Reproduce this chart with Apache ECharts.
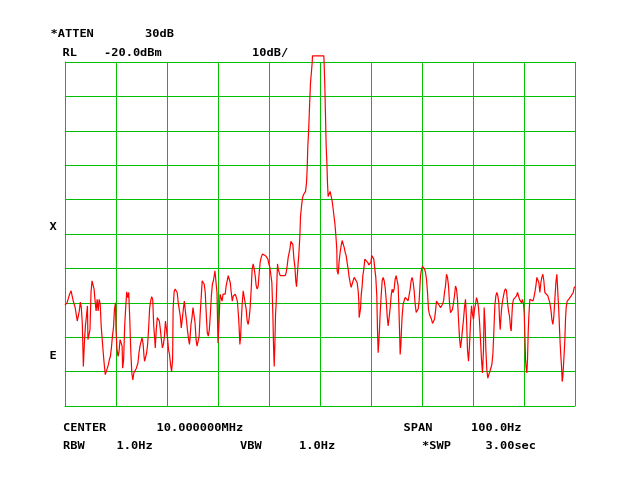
<!DOCTYPE html>
<html>
<head>
<meta charset="utf-8">
<script src="https://cdn.jsdelivr.net/npm/echarts@6/dist/echarts.min.js"></script>
<style>
  html, body { margin: 0; padding: 0; background: #fff; }
  #main { width: 640px; height: 480px; }
</style>
</head>
<body>
<div id="main"></div>
<script>
// sweep: [offset from center (Hz), level (dBm)]
var traceLowSide = [
  [-50.0,-90.7],[-49.6,-90.0],[-49.4,-89.0],[-49.1,-87.5],[-48.8,-86.5],[-48.6,-88.0],[-48.3,-90.0],[-48.0,-91.4],[-47.8,-93.4],[-47.6,-95.3],
  [-47.4,-95.8],[-47.2,-92.4],[-47.0,-89.8],[-46.8,-91.4],[-46.6,-96.3],[-46.4,-108.5],[-46.3,-108.5],[-46.2,-101.7],[-46.0,-96.8],[-45.8,-93.9],
  [-45.6,-90.9],[-45.5,-100.7],[-45.3,-101.2],[-45.1,-97.8],[-44.9,-87.0],[-44.7,-83.6],[-44.5,-83.1],[-44.3,-86.0],[-44.1,-89.5],[-43.9,-92.4],
  [-43.7,-89.0],[-43.5,-92.4],[-43.3,-89.0],[-43.1,-90.4],[-42.9,-96.8],[-42.7,-100.7],[-42.5,-104.6],[-42.3,-108.0],[-42.1,-110.9],[-41.9,-110.4],
  [-41.7,-109.0],[-41.5,-108.0],[-41.3,-106.5],[-41.1,-105.6],[-40.9,-103.1],[-40.7,-99.7],[-40.5,-97.3],[-40.3,-91.9],[-40.1,-90.0],[-40.0,-97.8],
  [-39.8,-103.6],[-39.6,-105.6],[-39.4,-104.1],[-39.2,-100.7],[-39.0,-101.2],[-38.8,-102.6],[-38.7,-109.0],[-38.5,-106.5],[-38.3,-96.8],[-38.1,-91.4],
  [-37.9,-86.8],[-37.7,-88.5],[-37.5,-87.0],[-37.3,-94.8],[-37.1,-104.1],[-36.9,-110.4],[-36.7,-112.4],[-36.5,-110.4],[-36.2,-110.0],[-36.0,-109.0],
  [-35.7,-107.5],[-35.5,-104.6],[-35.3,-102.6],[-35.1,-102.1],[-34.9,-100.2],[-34.7,-101.7],[-34.5,-105.6],[-34.4,-107.0],[-34.2,-106.5],[-34.0,-104.6],
  [-33.8,-102.1],[-33.6,-97.3],[-33.4,-91.4],[-33.2,-89.5],[-33.0,-88.2],[-32.8,-89.0],[-32.6,-96.8],[-32.4,-100.7],[-32.3,-103.1],[-32.1,-97.8],
  [-31.9,-94.3],[-31.7,-93.9],[-31.5,-95.3],[-31.3,-97.8],[-31.1,-100.7],[-30.9,-103.1],[-30.7,-102.1],[-30.5,-99.7],[-30.3,-95.3],[-30.1,-97.8],
  [-29.9,-100.2],[-29.7,-103.6],[-29.5,-105.1],[-29.3,-108.0],[-29.1,-110.0],[-28.9,-106.5],[-28.8,-91.9],[-28.6,-86.8],[-28.4,-86.0],[-28.2,-86.0],
  [-28.0,-87.0],[-27.8,-90.0],[-27.6,-91.9],[-27.4,-93.9],[-27.2,-97.3],[-27.0,-96.8],[-26.8,-91.9],[-26.6,-89.5],[-26.4,-92.4],[-26.2,-94.8],
  [-26.0,-97.8],[-25.8,-100.2],[-25.6,-102.1],[-25.5,-100.7],[-25.3,-96.3],[-25.1,-94.3],[-24.9,-91.4],[-24.7,-91.9],[-24.5,-95.8],[-24.3,-100.7],
  [-24.1,-102.6],[-23.9,-102.1],[-23.7,-99.7],[-23.5,-93.4],[-23.3,-88.5],[-23.1,-83.6],[-22.9,-83.1],[-22.7,-84.6],[-22.5,-87.0],[-22.3,-93.4],
  [-22.1,-98.7],[-21.9,-99.7],[-21.7,-97.8],[-21.5,-93.4],[-21.3,-88.0],[-21.1,-84.6],[-20.9,-83.6],[-20.7,-81.7],[-20.6,-80.7],[-20.4,-81.2],
  [-20.2,-87.0],[-20.0,-101.7],[-19.8,-95.8],[-19.6,-87.5],[-19.4,-88.0],[-19.2,-89.5],[-19.0,-87.5],[-18.8,-87.0],[-18.6,-87.5],[-18.4,-85.1],
  [-18.2,-83.6],[-18.0,-82.1],[-17.8,-81.7],[-17.6,-84.1],[-17.4,-87.0],[-17.2,-89.5],[-17.0,-88.0],[-16.8,-87.5],[-16.6,-87.5],[-16.4,-88.0],
  [-16.2,-89.5],[-15.98,-93.9],[-15.85,-97.3],[-15.71,-102.1],[-15.58,-100.2],[-15.45,-95.8],[-15.26,-90.4],[-15.06,-86.5],[-14.86,-86.5],[-14.67,-87.0],
  [-14.47,-91.9],[-14.28,-95.3],[-14.08,-96.3],[-13.88,-94.3],[-13.69,-91.4],[-13.49,-86.0],[-13.30,-80.2],[-13.10,-78.7],[-12.90,-80.2],[-12.71,-82.1],
  [-12.51,-85.1],[-12.32,-86.0],[-12.12,-85.1],[-11.92,-81.2],[-11.73,-78.2],[-11.53,-76.8],[-11.27,-75.8],[-11.07,-75.5],[-10.88,-75.8],[-10.68,-76.3],
  [-10.49,-76.8],[-10.22,-77.3],[-10.03,-78.7],[-9.83,-79.7],[-9.64,-80.2],[-9.44,-84.1],[-9.24,-93.4],[-9.11,-102.6],[-8.98,-108.5],[-8.85,-102.1],
  [-8.72,-93.4],[-8.59,-90.0],[-8.46,-84.1],[-8.33,-78.7],[-8.20,-80.2],[-8.00,-81.2],[-7.81,-82.1],[-7.61,-82.0],[-7.41,-82.1],[-7.22,-82.0],
  [-7.02,-82.4],[-6.82,-82.1],[-6.63,-81.2],[-6.43,-79.2],[-6.24,-76.8],[-6.11,-76.5],[-5.91,-74.5],[-5.71,-72.1],[-5.52,-71.6],[-5.32,-73.1],
  [-5.13,-77.0],[-4.93,-79.4],[-4.74,-83.8],[-4.60,-85.3],[-4.47,-84.8],[-4.28,-78.4],[-4.15,-76.0],[-3.95,-70.6]
];

var traceCarrier = [
  [-3.82,-64.9],[-3.63,-62.0],[-3.43,-59.5],[-3.24,-58.6],[-2.84,-57.6],[-2.65,-55.2],[-2.52,-51.3],[-2.39,-44.5],[-2.25,-40.6],[-2.12,-35.8],
  [-1.99,-30.5],[-1.86,-26.1],[-1.67,-22.7],[-1.54,-20.3],[-1.47,-18.2],[0.75,-18.2],[0.82,-20.8],[0.95,-27.1],[1.08,-35.8],[1.21,-44.5],
  [1.34,-48.9],[1.47,-55.2],[1.60,-59.1],[1.73,-58.6],[1.86,-59.5],[1.99,-57.6],[2.12,-58.1],[2.25,-59.5],[2.39,-60.5],[2.52,-62.0],
  [2.71,-64.4],[2.91,-66.8],[3.10,-70.2],[3.30,-74.6]
];

var traceHighSide = [
  [3.36,-80.7],[3.56,-81.7],[3.76,-77.8],[3.95,-75.3],[4.15,-73.4],[4.34,-71.9],[4.54,-72.4],[4.74,-73.9],[4.93,-75.3],[5.13,-76.3],
  [5.32,-78.3],[5.52,-80.2],[5.72,-82.6],[5.91,-84.1],[6.11,-85.5],[6.30,-85.0],[6.50,-83.6],[6.70,-82.6],[6.89,-82.1],[7.09,-82.6],
  [7.28,-84.1],[7.48,-86.5],[7.61,-89.4],[7.68,-94.3],[7.81,-94.3],[7.94,-91.8],[8.07,-88.0],[8.27,-85.0],[8.40,-82.1],[8.59,-80.2],
  [8.79,-77.3],[8.98,-77.3],[9.18,-77.8],[9.38,-78.3],[9.57,-79.0],[9.77,-79.2],[9.96,-78.3],[10.16,-76.3],[10.36,-75.8],[10.55,-77.3],
  [10.75,-80.2],[10.94,-82.6],[11.14,-88.0],[11.27,-97.7],[11.40,-104.5],[11.53,-101.6],[11.66,-97.7],[11.79,-93.3],[11.99,-88.0],[12.19,-83.6],
  [12.38,-82.6],[12.58,-83.6],[12.77,-85.5],[12.97,-88.9],[13.17,-93.8],[13.36,-96.7],[13.56,-94.3],[13.76,-91.4],[13.95,-88.0],[14.15,-86.0],
  [14.34,-87.0],[14.54,-86.0],[14.74,-83.1],[14.93,-82.1],[15.13,-81.7],[15.32,-85.0],[15.45,-90.4],[15.59,-97.7],[15.72,-105.0],[15.85,-102.5],
  [15.98,-97.7],[16.11,-93.8],[16.30,-90.4],[16.50,-89.4],[16.70,-88.4],[16.89,-88.4],[17.09,-88.9],[17.29,-89.4],[17.48,-88.9],[17.68,-86.0],
  [17.87,-83.6],[18.07,-82.6],[18.27,-84.1],[18.46,-86.5],[18.66,-90.4],[18.86,-92.8],[19.05,-93.3],[19.25,-91.8],[19.44,-89.4],[19.51,-89.5],
  [19.71,-82.1],[19.90,-80.2],[20.10,-79.4],[20.29,-79.4],[20.49,-80.2],[20.69,-81.2],[20.88,-83.1],[21.08,-87.0],[21.27,-91.9],[21.47,-93.4],
  [21.67,-93.7],[21.86,-94.8],[22.06,-96.0],[22.26,-96.3],[22.45,-94.8],[22.65,-92.4],[22.84,-89.5],[23.04,-89.0],[23.24,-90.4],[23.43,-90.9],
  [23.63,-91.4],[23.82,-90.9],[24.02,-90.4],[24.22,-89.5],[24.41,-87.0],[24.61,-85.1],[24.80,-81.7],[25.00,-82.6],[25.20,-85.1],[25.39,-90.0],
  [25.59,-92.9],[25.78,-92.9],[25.98,-91.9],[26.18,-90.0],[26.37,-88.0],[26.57,-85.1],[26.77,-86.0],[26.96,-89.0],[27.16,-94.8],[27.35,-100.2],
  [27.55,-103.1],[27.75,-100.7],[27.94,-97.8],[28.14,-94.8],[28.33,-91.4],[28.53,-89.0],[28.73,-94.8],[28.92,-103.6],[29.12,-107.0],[29.31,-102.6],
  [29.51,-95.8],[29.71,-90.9],[29.90,-93.4],[30.10,-94.8],[30.29,-91.9],[30.49,-90.4],[30.69,-88.5],[30.88,-89.5],[31.08,-91.4],[31.27,-95.3],
  [31.47,-100.7],[31.67,-106.5],[31.86,-110.4],[32.06,-103.6],[32.19,-91.4],[32.39,-96.8],[32.52,-103.6],[32.71,-109.5],[32.91,-111.9],[33.10,-110.9],
  [33.30,-110.0],[33.50,-109.5],[33.69,-108.0],[33.89,-105.1],[34.08,-98.7],[34.28,-90.9],[34.48,-88.0],[34.67,-87.0],[34.87,-88.0],[35.07,-90.0],
  [35.20,-94.8],[35.33,-97.8],[35.46,-94.8],[35.59,-91.9],[35.79,-89.5],[35.98,-88.0],[36.18,-86.5],[36.38,-85.9],[36.57,-86.5],[36.77,-90.0],
  [36.97,-92.4],[37.16,-93.9],[37.36,-97.3],[37.49,-98.2],[37.62,-93.9],[37.75,-90.4],[37.95,-89.0],[38.14,-88.8],[38.34,-88.5],[38.53,-88.0],
  [38.73,-87.0],[38.93,-87.5],[39.12,-89.0],[39.32,-89.5],[39.51,-90.0],[39.71,-89.0],[39.91,-90.4],[40.04,-92.9],[40.17,-99.2],[40.30,-106.5],
  [40.43,-109.0],[40.56,-110.4],[40.69,-106.5],[40.82,-98.7],[40.95,-93.9],[41.15,-89.0],[41.35,-88.5],[41.54,-89.0],[41.74,-89.5],[41.93,-88.5],
  [42.13,-87.0],[42.33,-85.1],[42.52,-82.6],[42.72,-82.1],[42.91,-84.1],[43.11,-87.0],[43.31,-84.1],[43.50,-82.6],[43.70,-81.7],[43.89,-83.6],
  [44.09,-87.0],[44.29,-87.5],[44.48,-87.5],[44.68,-88.0],[44.87,-88.5],[45.07,-90.0],[45.27,-91.9],[45.46,-94.8],[45.66,-96.3],[45.85,-93.9],
  [46.05,-89.0],[46.25,-84.1],[46.44,-81.7],[46.57,-85.1],[46.70,-89.0],[46.84,-92.9],[46.97,-97.8],[47.10,-102.1],[47.23,-105.6],[47.36,-108.5],
  [47.49,-112.9],[47.62,-111.4],[47.75,-108.0],[47.88,-104.6],[48.01,-100.7],[48.14,-94.8],[48.27,-91.4],[48.47,-89.5],[48.66,-89.0],[48.86,-88.8],
  [49.06,-88.5],[49.25,-88.0],[49.45,-87.5],[49.65,-87.0],[49.84,-85.6],[49.97,-85.3]
];

var spanHz = [-50, 50];
var levelRange = [-120, -20];   // RL -20 dBm, 10 dB/div

var headerLabels = ['*ATTEN', '30dB', 'RL', '-20.0dBm', '10dB/'];
var sideLabels = ['X', 'E'];
var footerLabels = ['CENTER', '10.000000MHz', 'SPAN', '100.0Hz', 'RBW', '1.0Hz', 'VBW', '1.0Hz', '*SWP', '3.00sec'];

var GREEN = '#00c000';
var FONT = 'bold 10px "DejaVu Sans Mono"';

function txt(s, x, y) {
    return {
        type: 'text',
        x: x,
        y: y,
        scaleX: 1.2,
        silent: true,
        style: { text: s, font: FONT, fill: '#000', verticalAlign: 'middle' }
    };
}

var myChart = echarts.init(document.getElementById('main'));
var option = {
    backgroundColor: '#fff',
    animation: false,
    grid: { left: 65, top: 62, width: 510, height: 344 },
    xAxis: {
        type: 'value',
        min: spanHz[0],
        max: spanHz[1],
        interval: 10,
        axisLabel: { show: false },
        axisTick: { show: false },
        axisLine: { show: true, onZero: false, lineStyle: { color: GREEN, width: 1 } },
        splitLine: { show: true, lineStyle: { color: GREEN, width: 1 } }
    },
    yAxis: {
        type: 'value',
        min: levelRange[0],
        max: levelRange[1],
        interval: 10,
        axisLabel: { show: false },
        axisTick: { show: false },
        axisLine: { show: true, onZero: false, lineStyle: { color: GREEN, width: 1 } },
        splitLine: { show: true, lineStyle: { color: GREEN, width: 1 } }
    },
    graphic: [
        txt(headerLabels[0], 50.5, 34.5),
        txt(headerLabels[1], 145, 34.5),
        txt(headerLabels[2], 62.5, 53),
        txt(headerLabels[3], 104, 53),
        txt(headerLabels[4], 252, 53),
        txt(sideLabels[0], 49.5, 227),
        txt(sideLabels[1], 49.5, 356.5),
        txt(footerLabels[0], 63, 428.5),
        txt(footerLabels[1], 156.5, 428.5),
        txt(footerLabels[2], 403.5, 428.5),
        txt(footerLabels[3], 471, 428.5),
        txt(footerLabels[4], 63, 446.5),
        txt(footerLabels[5], 116.5, 446.5),
        txt(footerLabels[6], 240, 446.5),
        txt(footerLabels[7], 299, 446.5),
        txt(footerLabels[8], 422, 446.5),
        txt(footerLabels[9], 485.5, 446.5)
    ],
    series: [
        {
            type: 'line',
            data: traceLowSide.concat(traceCarrier, traceHighSide),
            symbol: 'none',
            clip: false,
            lineStyle: { color: '#ff0000', width: 1.2 },
            silent: true
        }
    ]
};
myChart.setOption(option);
window.addEventListener('resize', function () {
    myChart.resize();
});
</script>
</body>
</html>
